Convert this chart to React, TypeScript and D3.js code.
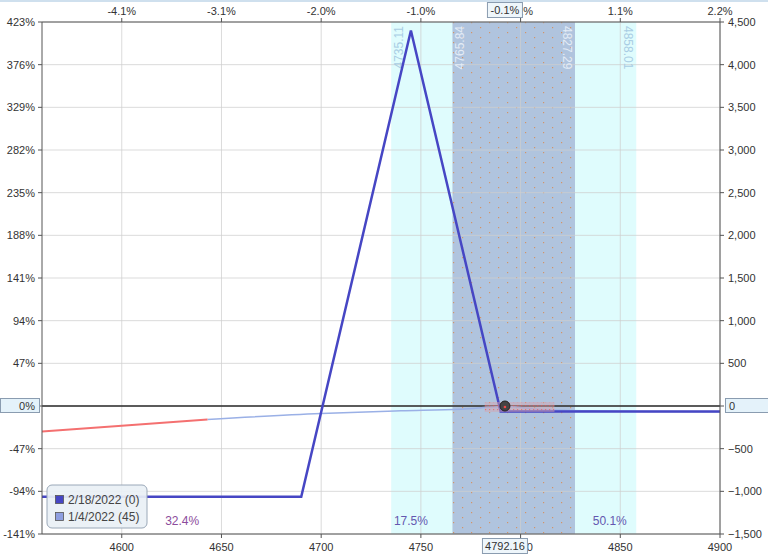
import React from "react";
import * as d3 from "d3";

// ---- data ----
const xTicks = [4600, 4650, 4700, 4750, 4800, 4850, 4900];
const topTickLabels = ["-4.1%", "-3.1%", "-2.0%", "-1.0%", "0.1%", "1.1%", "2.2%"];
const yTicksDollar = [-1500, -1000, -500, 0, 500, 1000, 1500, 2000, 2500, 3000, 3500, 4000, 4500];
const yTicksPct = ["-141%", "-94%", "-47%", "0%", "47%", "94%", "141%", "188%", "235%", "282%", "329%", "376%", "423%"];

// expiration P/L (2/18/2022)
const expiryX = [4560, 4690, 4745, 4790, 4900];
const expiryY = [-1064, -1064, 4400, -64, -64];

// T+0 P/L (1/4/2022, 45 days)
const t0X = [4560, 4600, 4643, 4700, 4740, 4770, 4792.16, 4810, 4840, 4870, 4900];
const t0Y = [-300, -232, -158, -88, -57, -38, -5, -40, -58, -64, -66];
const t0RedUntil = 4643;

const currentPrice = 4792.16;
const currentPriceLabel = "4792.16";
const currentPctLabel = "-0.1%";
const highlightRange = [4782, 4817];

const sdOuter = [4735.11, 4858.01];
const sdInner = [4765.84, 4827.29];

const probRegions = [
  { x0: 4560, x1: 4700.6, label: "32.4%", loss: true },
  { x0: 4700.6, x1: 4789.4, label: "17.5%", loss: false },
  { x0: 4789.4, x1: 4900, label: "50.1%", loss: false },
];

const legendItems = [
  { label: "2/18/2022 (0)", color: "#4646c4" },
  { label: "1/4/2022 (45)", color: "#8e9ee0" },
];

// ---- layout ----
const W = 768;
const H = 555;
const L = 42, R = 720, T = 22, B = 534;
const FONT = "'Liberation Sans', Arial, sans-serif";

export default function App() {
  const x = d3.scaleLinear().domain([4560, 4900]).range([L, R]);
  const y = d3.scaleLinear().domain([-1500, 4500]).range([B, T]);

  const line = d3.line<[number, number]>().x((d) => x(d[0])).y((d) => y(d[1]));
  const expiryPts: [number, number][] = expiryX.map((v, i) => [v, expiryY[i]]);
  const t0Pts: [number, number][] = t0X.map((v, i) => [v, t0Y[i]]);
  const t0Curve = d3.line<[number, number]>().x((d) => x(d[0])).y((d) => y(d[1])).curve(d3.curveMonotoneX);
  const t0Red = t0Pts.filter((p) => p[0] <= t0RedUntil);
  const t0Blue = t0Pts.filter((p) => p[0] >= t0RedUntil);

  const cx = x(currentPrice);
  const y0 = y(0);

  return (
    <svg
      width={W}
      height={H}
      style={{ position: "absolute", left: 0, top: 0, background: "#fff" }}
      fontFamily={FONT}
    >
      <defs>
        <pattern id="dots" width="18" height="10" patternUnits="userSpaceOnUse">
          <rect x="3" y="2" width="1.2" height="1.2" fill="#d29468" />
          <rect x="12" y="7" width="1.2" height="1.2" fill="#d29468" />
        </pattern>
        <pattern id="reddots" width="4" height="4" patternUnits="userSpaceOnUse">
          <rect x="1" y="1" width="1.2" height="1.2" fill="#f05050" />
        </pattern>
        <clipPath id="plot">
          <rect x={L} y={T} width={R - L} height={B - T} />
        </clipPath>
      </defs>
      <rect x={0} y={0} width={W} height={2} fill="#cfe0ee" />

      {/* bands */}
      <rect x={x(sdOuter[0])} y={T} width={x(sdOuter[1]) - x(sdOuter[0])} height={B - T} fill="#dffcfd" />
      <rect x={x(sdInner[0])} y={T} width={x(sdInner[1]) - x(sdInner[0])} height={B - T} fill="#b0c4de" />
      <rect x={x(sdInner[0])} y={T} width={x(sdInner[1]) - x(sdInner[0])} height={B - T} fill="url(#dots)" />

      {/* grid */}
      {xTicks.map((t) => (
        <line key={"gx" + t} x1={x(t)} x2={x(t)} y1={T} y2={B} stroke="#cfcfcf" strokeOpacity={0.75} />
      ))}
      {yTicksDollar.map((t) => (
        <line key={"gy" + t} x1={L} x2={R} y1={y(t)} y2={y(t)} stroke="#cfcfcf" strokeOpacity={0.75} />
      ))}

      {/* band labels */}
      {[
        { v: sdOuter[0], side: "l", color: "#a9cde4" },
        { v: sdInner[0], side: "l", color: "#e4ecf6" },
        { v: sdInner[1], side: "r", color: "#e4ecf6" },
        { v: sdOuter[1], side: "r", color: "#a9cde4" },
      ].map((b) =>
        b.side === "l" ? (
          <text
            key={"bl" + b.v}
            transform={`translate(${x(b.v) + 12},${T + 4}) rotate(-90)`}
            textAnchor="end"
            fontSize={12}
            fill={b.color}
          >
            {b.v.toFixed(2)}
          </text>
        ) : (
          <text
            key={"bl" + b.v}
            transform={`translate(${x(b.v) - 12},${T + 4}) rotate(90)`}
            textAnchor="start"
            fontSize={12}
            fill={b.color}
          >
            {b.v.toFixed(2)}
          </text>
        )
      )}

      {/* probability labels */}
      {probRegions.map((r) => (
        <text
          key={r.label}
          x={x((r.x0 + r.x1) / 2)}
          y={B - 9}
          textAnchor="middle"
          fontSize={12}
          fill={r.loss ? "#8c4c9c" : "#6457b0"}
        >
          {r.label}
        </text>
      ))}

      {/* zero line */}
      <line x1={L} x2={R} y1={y0} y2={y0} stroke="#2a2a2a" strokeWidth={1.3} />

      <g clipPath="url(#plot)">
        {/* T+0 */}
        <path d={t0Curve(t0Blue) || ""} fill="none" stroke="#9ab0e6" strokeWidth={1.5} />
        <path d={t0Curve(t0Red) || ""} fill="none" stroke="#f47070" strokeWidth={2} />
        {/* expiry */}
        <path d={line(expiryPts) || ""} fill="none" stroke="#4646c4" strokeWidth={2.5} strokeLinejoin="miter" />
        {/* highlight */}
        <rect
          x={x(highlightRange[0])}
          y={y0 - 4}
          width={x(highlightRange[1]) - x(highlightRange[0])}
          height={10}
          fill="#d6a4ac"
          opacity={0.45}
        />
        <rect
          x={x(highlightRange[0])}
          y={y0 - 4}
          width={x(highlightRange[1]) - x(highlightRange[0])}
          height={10}
          fill="url(#reddots)"
          opacity={0.6}
        />
        <circle cx={cx} cy={y0} r={5} fill="#444" stroke="#222" />
        <circle cx={cx} cy={y0 + 1} r={1.3} fill="#f04848" />
      </g>

      {/* axes frame */}
      <line x1={L} x2={L} y1={T} y2={B} stroke="#555" />
      <line x1={R} x2={R} y1={T} y2={B} stroke="#555" />
      <line x1={L} x2={R} y1={T} y2={T} stroke="#555" />
      <line x1={L} x2={R} y1={B} y2={B} stroke="#555" />

      {/* bottom axis */}
      {xTicks.map((t) => (
        <g key={"bx" + t}>
          <line x1={x(t)} x2={x(t)} y1={B} y2={B + 4} stroke="#555" />
          <text x={x(t)} y={B + 17} textAnchor="middle" fontSize={11} fill="#333">
            {t}
          </text>
        </g>
      ))}
      {/* top axis */}
      {xTicks.map((t, i) => (
        <g key={"tx" + t}>
          <line x1={x(t)} x2={x(t)} y1={T - 4} y2={T} stroke="#555" />
          <text x={x(t)} y={T - 7} textAnchor="middle" fontSize={11} fill="#333">
            {topTickLabels[i]}
          </text>
        </g>
      ))}
      {/* left axis */}
      {yTicksDollar.map((t, i) => (
        <g key={"ly" + t}>
          <line x1={L - 4} x2={L} y1={y(t)} y2={y(t)} stroke="#555" />
          <text x={L - 7} y={y(t) + 4} textAnchor="end" fontSize={11} fill="#333">
            {yTicksPct[i]}
          </text>
        </g>
      ))}
      {/* right axis */}
      {yTicksDollar.map((t) => (
        <g key={"ry" + t}>
          <line x1={R} x2={R + 4} y1={y(t)} y2={y(t)} stroke="#555" />
          <text x={R + 8} y={y(t) + 4} textAnchor="start" fontSize={11} fill="#333">
            {d3.format(",")(t)}
          </text>
        </g>
      ))}

      {/* highlighted axis boxes */}
      <rect x={0.5} y={y0 - 7.5} width={39} height={14} fill="#e4f2fa" stroke="#8a9cb0" />
      <text x={35} y={y0 + 4} textAnchor="end" fontSize={11} fill="#333">0%</text>
      <rect x={R + 5.5} y={y0 - 7.5} width={W - R - 5} height={14} fill="#e4f2fa" stroke="#8a9cb0" />
      <text x={R + 9} y={y0 + 4} textAnchor="start" fontSize={11} fill="#333">0</text>

      <rect x={cx - 22.5} y={B + 4.5} width={45} height={15} fill="#eef6fb" stroke="#8a9cb0" />
      <text x={cx} y={B + 16} textAnchor="middle" fontSize={11} fill="#333">{currentPriceLabel}</text>
      <rect x={cx - 17.5} y={2.5} width={35} height={15} fill="#eef6fb" stroke="#8a9cb0" />
      <text x={cx} y={14} textAnchor="middle" fontSize={11} fill="#333">{currentPctLabel}</text>

      {/* legend */}
      <g>
        <rect x={47} y={485} width={100} height={43} rx={5} fill="#e9f0f5" fillOpacity={0.92} stroke="#9aa8b8" />
        {legendItems.map((it, i) => (
          <g key={it.label}>
            <rect x={55.5} y={495.5 + i * 17} width={8} height={8} fill={it.color} stroke="#555" strokeWidth={0.8} />
            <text x={68} y={504 + i * 17} fontSize={12} fill="#444">{it.label}</text>
          </g>
        ))}
      </g>
    </svg>
  );
}
